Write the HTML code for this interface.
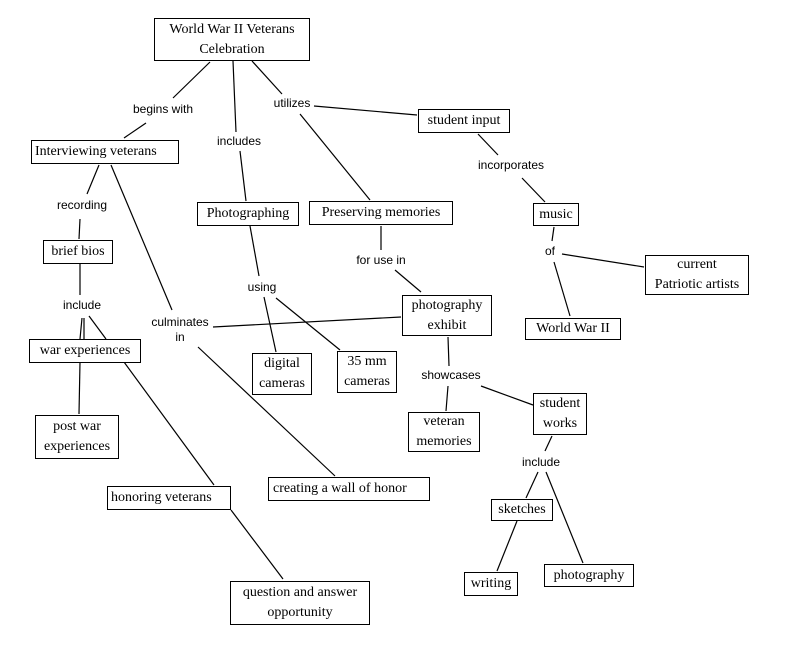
<!DOCTYPE html>
<html><head><meta charset="utf-8"><style>
body{margin:0;width:789px;height:665px;background:#fff;position:relative;overflow:hidden}
.b{position:absolute;border:1px solid #000;background:#fff;font-family:"Liberation Serif",serif;font-size:14px;line-height:20px;text-align:center;box-sizing:border-box;white-space:nowrap;display:flex;align-items:center;justify-content:center}
.l{position:absolute;font-family:"Liberation Sans",sans-serif;font-size:12px;line-height:15px;text-align:center;transform:translateX(-50%);white-space:nowrap;background:#fff}
svg{position:absolute;left:0;top:0}
</style></head><body>
<svg width="789" height="665" stroke="#000" stroke-width="1.2">
<line x1="210" y1="62" x2="173" y2="98"/><line x1="146" y1="123" x2="124" y2="138"/>
<line x1="233" y1="61" x2="236" y2="132"/><line x1="240" y1="151" x2="246" y2="201"/>
<line x1="252" y1="61" x2="282" y2="94"/><line x1="314" y1="106" x2="417" y2="115"/><line x1="300" y1="114" x2="370" y2="200"/>
<line x1="99" y1="165" x2="87" y2="194"/><line x1="80" y1="219" x2="79" y2="239"/>
<line x1="80" y1="264" x2="80" y2="295"/>
<line x1="82" y1="318" x2="80" y2="339"/><line x1="84" y1="318" x2="84" y2="339"/><line x1="89" y1="316" x2="106" y2="339"/>
<line x1="111" y1="165" x2="172" y2="310"/>
<line x1="213" y1="327" x2="401" y2="317"/>
<line x1="198" y1="347" x2="335" y2="476"/>
<line x1="80" y1="362" x2="79" y2="414"/>
<line x1="124" y1="362" x2="214" y2="485"/>
<line x1="231" y1="510" x2="283" y2="579"/>
<line x1="250" y1="226" x2="259" y2="276"/><line x1="264" y1="297" x2="276" y2="352"/><line x1="276" y1="298" x2="340" y2="350"/>
<line x1="381" y1="226" x2="381" y2="250"/><line x1="395" y1="270" x2="421" y2="292"/>
<line x1="478" y1="134" x2="498" y2="155"/><line x1="522" y1="178" x2="545" y2="202"/>
<line x1="554" y1="227" x2="552" y2="241"/><line x1="562" y1="254" x2="644" y2="267"/><line x1="554" y1="262" x2="570" y2="316"/>
<line x1="448" y1="337" x2="449" y2="366"/><line x1="448" y1="386" x2="446" y2="411"/><line x1="481" y1="386" x2="533" y2="405"/>
<line x1="552" y1="436" x2="545" y2="451"/><line x1="538" y1="472" x2="526" y2="498"/><line x1="546" y1="472" x2="583" y2="563"/>
<line x1="517" y1="521" x2="497" y2="571"/>
</svg>
<div class="b" style="left:154px;top:18px;width:156px;height:43px">World War II Veterans<br>Celebration</div>
<div class="b" style="left:31px;top:140px;width:148px;height:24px;justify-content:flex-start;padding-left:3px">Interviewing veterans</div>
<div class="b" style="left:43px;top:240px;width:70px;height:24px">brief bios</div>
<div class="b" style="left:29px;top:339px;width:112px;height:24px">war experiences</div>
<div class="b" style="left:35px;top:415px;width:84px;height:44px">post war<br>experiences</div>
<div class="b" style="left:107px;top:486px;width:124px;height:24px;justify-content:flex-start;padding-left:3px">honoring veterans</div>
<div class="b" style="left:230px;top:581px;width:140px;height:44px">question and answer<br>opportunity</div>
<div class="b" style="left:268px;top:477px;width:162px;height:24px;justify-content:flex-start;padding-left:4px">creating a wall of honor</div>
<div class="b" style="left:197px;top:202px;width:102px;height:24px">Photographing</div>
<div class="b" style="left:309px;top:201px;width:144px;height:24px">Preserving memories</div>
<div class="b" style="left:252px;top:353px;width:60px;height:42px">digital<br>cameras</div>
<div class="b" style="left:337px;top:351px;width:60px;height:42px">35 mm<br>cameras</div>
<div class="b" style="left:402px;top:295px;width:90px;height:41px">photography<br>exhibit</div>
<div class="b" style="left:418px;top:109px;width:92px;height:24px">student input</div>
<div class="b" style="left:533px;top:203px;width:46px;height:23px">music</div>
<div class="b" style="left:645px;top:255px;width:104px;height:40px">current<br>Patriotic artists</div>
<div class="b" style="left:525px;top:318px;width:96px;height:22px">World War II</div>
<div class="b" style="left:408px;top:412px;width:72px;height:40px">veteran<br>memories</div>
<div class="b" style="left:533px;top:393px;width:54px;height:42px">student<br>works</div>
<div class="b" style="left:491px;top:499px;width:62px;height:22px">sketches</div>
<div class="b" style="left:464px;top:572px;width:54px;height:24px">writing</div>
<div class="b" style="left:544px;top:564px;width:90px;height:23px">photography</div>
<div class="l" style="left:163px;top:102px">begins with</div>
<div class="l" style="left:239px;top:134px">includes</div>
<div class="l" style="left:292px;top:96px">utilizes</div>
<div class="l" style="left:82px;top:198px">recording</div>
<div class="l" style="left:82px;top:298px">include</div>
<div class="l" style="left:180px;top:315px">culminates<br>in</div>
<div class="l" style="left:262px;top:280px">using</div>
<div class="l" style="left:381px;top:253px">for use in</div>
<div class="l" style="left:511px;top:158px">incorporates</div>
<div class="l" style="left:550px;top:244px">of</div>
<div class="l" style="left:451px;top:368px">showcases</div>
<div class="l" style="left:541px;top:455px">include</div>
</body></html>
